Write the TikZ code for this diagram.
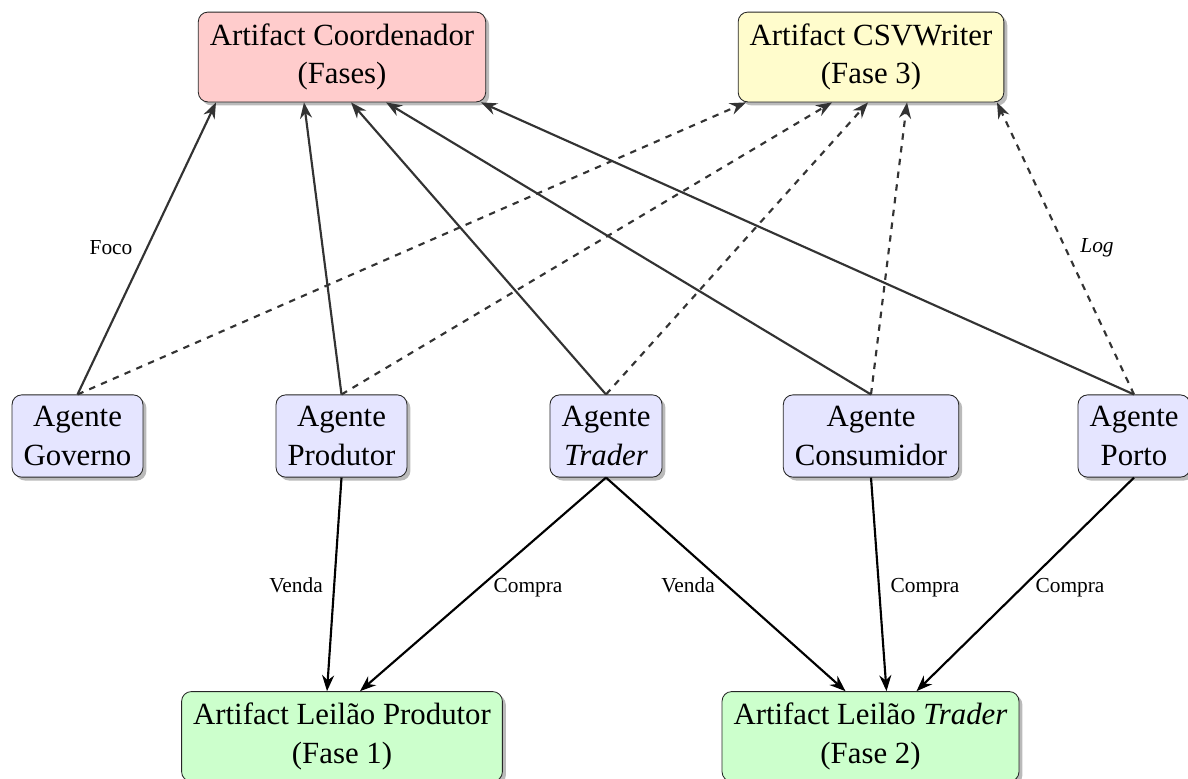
\documentclass[tikz,border=0pt]{standalone}
\usepackage{fontspec}
\setmainfont{Liberation Serif}
\usetikzlibrary{shadows,arrows.meta,calc}
\tikzset{
  box/.style={draw=black!85, rounded corners=4.5pt, align=center, inner sep=5.4pt,
    font=\fontsize{14.4}{18}\selectfont,
    drop shadow={shadow xshift=1.6pt, shadow yshift=-1.6pt, fill=black!45, opacity=.6}},
  coordbox/.style={box, fill=red!20},
  csvbox/.style={box, fill=yellow!20},
  agentbox/.style={box, fill=blue!10},
  leilaobox/.style={box, fill=green!20},
  lbl/.style={font=\fontsize{10}{12}\selectfont, inner sep=0pt, anchor=base},
  upline/.style={draw=black!80, line width=1pt, -{Stealth}},
  updash/.style={draw=black!80, line width=1pt, dashed, -{Stealth}},
  downline/.style={draw=black, line width=1pt, -{Stealth}}
}
\begin{document}
\begin{tikzpicture}[x=0.4675pt, y=-0.4675pt]
\useasboundingbox (0,0) rectangle (1188,778);

\node[coordbox] (coord) at (342,57) {Artifact Coordenador\\(Fases)};
\node[csvbox] (csv) at (871,57) {Artifact CSVWriter\\(Fase 3)};

\node[agentbox] (gov) at (77.5,436) {Agente\\Governo};
\node[agentbox] (prod) at (341.5,436) {Agente\\Produtor};
\node[agentbox] (trader) at (606,436) {Agente\\\textit{Trader}};
\node[agentbox] (cons) at (871,436) {Agente\\Consumidor};
\node[agentbox] (porto) at (1134,436) {Agente\\Porto};

\node[leilaobox] (lp) at (342,736.5) {Artifact Leilão Produtor\\(Fase 1)};
\node[leilaobox] (lt) at (870.5,736.5) {Artifact Leilão \textit{Trader}\\(Fase 2)};

% solid arrows to Coordenador
\draw[upline] (gov.north) -- ($(coord.south)+(-126,0)$);
\draw[upline] (prod.north) -- ($(coord.south)+(-38,0)$);
\draw[upline] (trader.north) -- ($(coord.south)+(9,0)$);
\draw[upline] (cons.north) -- ($(coord.south)+(44,0)$);
\draw[upline] (porto.north) -- ($(coord.south)+(139,0)$);

% dashed arrows to CSVWriter
\draw[updash] (gov.north) -- ($(csv.south)+(-125,0)$);
\draw[updash] (prod.north) -- ($(csv.south)+(-39,0)$);
\draw[updash] (trader.north) -- ($(csv.south)+(-3,0)$);
\draw[updash] (cons.north) -- ($(csv.south)+(36,0)$);
\draw[updash] (porto.north) -- ($(csv.south)+(126,0)$);

% lower arrows
\draw[downline] (prod.south) -- ($(lp.north)+(-15,0)$);
\draw[downline] (trader.south) -- ($(lp.north)+(18,0)$);
\draw[downline] (trader.south) -- ($(lt.north)+(-25,0)$);
\draw[downline] (cons.south) -- ($(lt.north)+(16,0)$);
\draw[downline] (porto.south) -- ($(lt.north)+(46,0)$);

% labels
\node[lbl] (lfoco) at (111,254) {Foco};
\node[lbl] (llog) at (1097,252) {\textit{Log}};
\node[lbl] (lvenda1) at (296,592) {Venda};
\node[lbl] (lcompra1) at (528,592) {Compra};
\node[lbl] (lvenda2) at (688,592) {Venda};
\node[lbl] (lcompra2) at (925,592) {Compra};
\node[lbl] (lcompra3) at (1070,592) {Compra};
\end{tikzpicture}
\end{document}
